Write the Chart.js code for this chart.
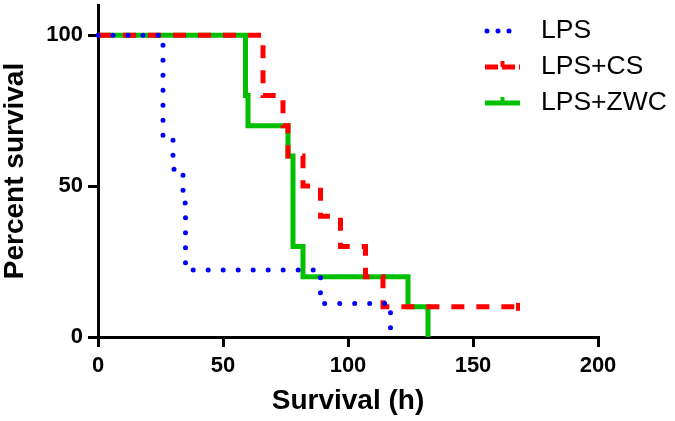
<!DOCTYPE html>
<html>
<head>
<meta charset="utf-8">
<script src="https://cdn.jsdelivr.net/npm/chart.js@4.4.1/dist/chart.umd.min.js"></script>
<style>
html,body{margin:0;padding:0;background:#fff;}
#wrap{width:675px;height:421px;position:relative;}
</style>
</head>
<body>
<div id="wrap"><canvas id="c" width="675" height="421"></canvas></div>
<script>
// Kaplan-Meier step data (time in h, percent survival)
const seriesNames = ['LPS', 'LPS+CS', 'LPS+ZWC'];
const lpsTimes = [0, 26, 30, 34, 35, 89, 117];
const lpsSurv  = [100, 66.7, 55.6, 44.4, 22.2, 11.1, 0];
const csTimes  = [0, 66, 74, 76, 82, 89, 97, 107, 114, 168];
const csSurv   = [100, 80, 70, 60, 50, 40, 30, 20, 10, 10];
const zwcTimes = [0, 59, 60, 76, 78, 82, 124, 132];
const zwcSurv  = [100, 80, 70, 60, 30, 20, 10, 0];
const xTicks = [0, 50, 100, 150, 200];
const yTicks = [0, 50, 100];

const FONT = "'Liberation Sans', Arial, Helvetica, sans-serif";
const toPts = (t, s) => t.map((v, i) => ({x: v, y: s[i]}));

const styles = [
  {color: '#0000ff', width: 5, dash: [0, 15], cap: 'round'},
  {color: '#ff0000', width: 5, dash: [13, 12], cap: 'butt'},
  {color: '#00c000', width: 5, dash: [], cap: 'butt'}
];
const dataSets = [toPts(lpsTimes, lpsSurv), toPts(csTimes, csSurv), toPts(zwcTimes, zwcSurv)];

const legendPlugin = {
  id: 'kmLegend',
  afterDraw(chart) {
    const ctx = chart.ctx;
    const ys = [31, 67, 103];
    ctx.save();
    seriesNames.forEach((name, i) => {
      const st = styles[i];
      const y = ys[i];
      ctx.strokeStyle = st.color;
      ctx.lineWidth = st.width;
      ctx.lineCap = st.cap;
      ctx.setLineDash(i === 0 ? [0, 11] : (i === 1 ? [13, 4] : []));
      ctx.beginPath();
      ctx.moveTo(i === 0 ? 487 : 485, y);
      ctx.lineTo(520, y);
      ctx.stroke();
      ctx.setLineDash([]);
      if (i > 0) {
        ctx.lineCap = 'butt';
        ctx.lineWidth = 4;
        ctx.beginPath();
        ctx.moveTo(502.5, y - 6);
        ctx.lineTo(502.5, y);
        ctx.stroke();
      }
      ctx.fillStyle = '#000';
      ctx.font = '26.5px ' + FONT;
      ctx.textAlign = 'left';
      ctx.textBaseline = 'middle';
      ctx.fillText(name, 541, y);
    });
    ctx.restore();
  }
};

function noPad(s) { s.paddingTop = 0; s.paddingBottom = 0; s.paddingLeft = 0; s.paddingRight = 0; }

new Chart(document.getElementById('c'), {
  type: 'line',
  data: {
    datasets: dataSets.map((d, i) => ({
      label: seriesNames[i],
      data: d,
      stepped: 'before',
      borderColor: styles[i].color,
      backgroundColor: styles[i].color,
      borderWidth: styles[i].width,
      borderDash: styles[i].dash,
      borderCapStyle: styles[i].cap,
      // censored end of LPS+CS marked with a small tick
      pointRadius: d.map((p, j) => (i === 1 && j === d.length - 1) ? 4 : 0),
      pointStyle: 'line',
      rotation: 90,
      pointBorderWidth: 4,
      pointBorderColor: styles[i].color,
      fill: false,
      clip: false,
      tension: 0
    }))
  },
  options: {
    responsive: false,
    animation: false,
    devicePixelRatio: 1,
    layout: {autoPadding: false, padding: {left: 0, top: 5, right: 77, bottom: 0}},
    plugins: {legend: {display: false}, tooltip: {enabled: false}},
    scales: {
      x: {
        type: 'linear', min: 0, max: 200,
        afterFit(s) { s.height = 84; noPad(s); },
        afterBuildTicks(s) { s.ticks = xTicks.map(v => ({value: v})); },
        grid: {drawOnChartArea: false, drawTicks: true, tickLength: 10, color: '#000', lineWidth: 3},
        border: {display: true, color: '#000', width: 3},
        ticks: {color: '#000', padding: 6, font: {family: FONT, size: 22, weight: 'bold'}, maxRotation: 0},
        title: {display: true, text: 'Survival (h)', color: '#000', padding: {top: 0, bottom: 6},
                font: {family: FONT, size: 28, weight: 'bold', lineHeight: 1}}
      },
      y: {
        type: 'linear', min: 0, max: 110,
        afterFit(s) { s.width = 98; noPad(s); },
        afterBuildTicks(s) { s.ticks = yTicks.map(v => ({value: v})); },
        grid: {drawOnChartArea: false, drawTicks: true, tickLength: 10, color: '#000', lineWidth: 3},
        border: {display: true, color: '#000', width: 3},
        ticks: {color: '#000', padding: 5, font: {family: FONT, size: 22, weight: 'bold'}},
        title: {display: true, text: 'Percent survival', color: '#000', padding: {top: 1, bottom: 0},
                font: {family: FONT, size: 28, weight: 'bold', lineHeight: 1}}
      }
    }
  },
  plugins: [legendPlugin]
});
</script>
</body>
</html>
